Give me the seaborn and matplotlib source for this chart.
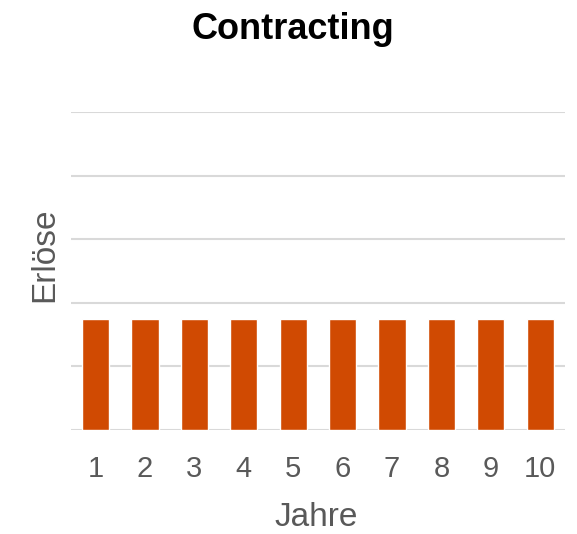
import matplotlib
matplotlib.use('Agg')
import matplotlib.pyplot as plt
import seaborn as sns
import pandas as pd

# Daten
jahre = ['1', '2', '3', '4', '5', '6', '7', '8', '9', '10']
erloese = [1.75, 1.75, 1.75, 1.75, 1.75, 1.75, 1.75, 1.75, 1.75, 1.75]
y_ticks = [0, 1, 2, 3, 4, 5]

sns.set_style('white')
plt.rcParams['font.family'] = ['Liberation Sans', 'DejaVu Sans']

df = pd.DataFrame({'Jahre': jahre, 'Erlöse': erloese})

fig = plt.figure(figsize=(5.77, 5.34), dpi=100)
ax = fig.add_axes([0.123, 0.195, 0.856, 0.595])

sns.barplot(data=df, x='Jahre', y='Erlöse', color='#D04A02', saturation=1,
            width=0.55, ax=ax, zorder=3)

ax.set_ylim(0, 5)
ax.set_yticks(y_ticks)
ax.set_yticklabels([])
ax.yaxis.grid(True, color='#D9D9D9', linewidth=1.5, zorder=0)
ax.tick_params(axis='y', length=0)
ax.tick_params(axis='x', length=0, labelsize=21, labelcolor='#595959', pad=18)
for s in ax.spines.values():
    s.set_visible(False)
ax.set_xlim(-0.5, len(jahre) - 0.5)

ax.set_xlabel('Jahre', fontsize=24, color='#595959')
ax.xaxis.set_label_coords(0.497, -0.227)
ax.set_ylabel('Erlöse', fontsize=24, color='#595959')
ax.yaxis.set_label_coords(-0.022, 0.55)
fig.text(0.508, 1 - 39 / 534, 'Contracting', fontsize=26, fontweight='bold',
         color='black', ha='center', va='baseline')

fig.savefig('out.png', dpi=100)
plt.close()
